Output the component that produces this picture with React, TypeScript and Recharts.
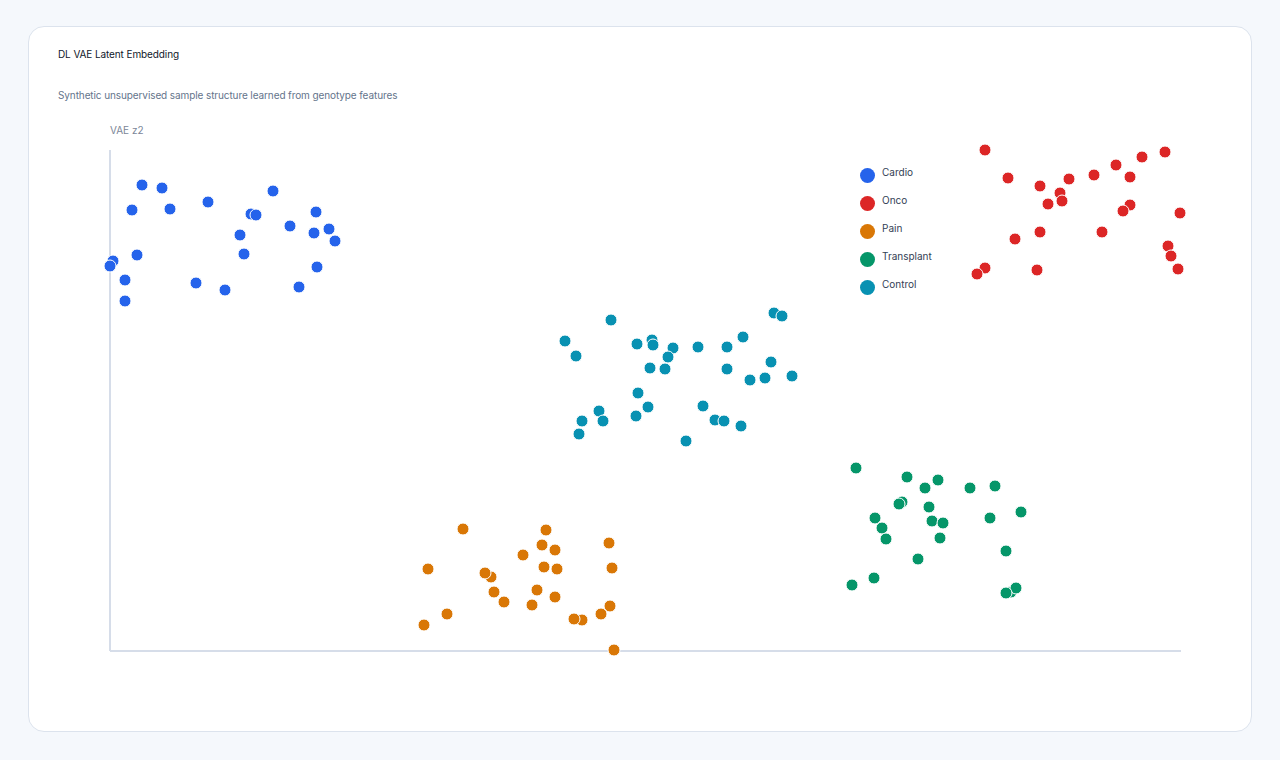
import { ScatterChart, Scatter, XAxis, YAxis } from "recharts";

// latent coordinates (z1, z2) per cohort
const cardioZ1 = [-5.03, -4.83, -5.13, -4.75, -4.37, -3.72, -3.94, -3.89, -3.29, -3.55, -3.31, -3.16, -3.1, -4.05, -4.01, -5.08, -5.32, -5.35, -5.2, -5.2, -4.49, -4.2, -3.46, -3.28];
const cardioZ2 = [2.15, 2.12, 1.9, 1.91, 1.98, 2.09, 1.86, 1.85, 1.88, 1.74, 1.67, 1.71, 1.59, 1.65, 1.46, 1.45, 1.39, 1.34, 1.2, 0.99, 1.17, 1.1, 1.13, 1.33];

const oncoZ1 = [3.4, 5.2, 4.97, 4.71, 4.49, 4.85, 3.63, 4.24, 3.95, 4.15, 4.17, 4.03, 4.85, 4.78, 5.35, 3.95, 4.57, 3.7, 5.23, 5.26, 3.4, 3.32, 3.92, 5.33];
const oncoZ2 = [2.5, 2.48, 2.43, 2.35, 2.25, 2.23, 2.22, 2.21, 2.14, 2.07, 1.99, 1.96, 1.95, 1.89, 1.87, 1.68, 1.68, 1.61, 1.54, 1.44, 1.32, 1.26, 1.3, 1.31];

const painZ1 = [-1.82, -0.99, -0.36, -1.03, -0.9, -1.22, -2.17, -1.54, -1.6, -1.01, -0.88, -0.33, -1.51, -1.41, -1.08, -1.13, -0.9, -1.98, -2.21, -0.63, -0.71, -0.44, -0.35, -0.31];
const painZ2 = [-1.29, -1.3, -1.43, -1.45, -1.5, -1.55, -1.69, -1.77, -1.73, -1.67, -1.69, -1.68, -1.92, -2.02, -1.9, -2.05, -1.97, -2.14, -2.25, -2.2, -2.19, -2.14, -2.06, -2.5];

const transplantZ1 = [2.11, 2.62, 2.93, 2.8, 3.25, 3.5, 2.57, 2.54, 2.84, 2.3, 2.87, 2.98, 3.45, 3.76, 2.37, 2.41, 2.95, 3.61, 2.73, 2.29, 2.07, 3.66, 3.71, 3.61];
const transplantZ2 = [-0.68, -0.77, -0.8, -0.88, -0.88, -0.86, -1.02, -1.04, -1.07, -1.18, -1.21, -1.23, -1.18, -1.12, -1.28, -1.39, -1.38, -1.51, -1.59, -1.78, -1.85, -1.92, -1.88, -1.93];

const controlZ1 = [-0.34, -0.8, -0.69, -0.08, 0.07, 0.08, 0.28, 0.23, 0.05, 0.2, 0.53, 0.82, 0.98, 1.29, 1.37, 0.82, 1.26, 1.05, 1.2, 1.47, -0.07, 0.03, -0.09, -0.46, -0.63, -0.42, -0.66, 0.58, 0.7, 0.79, 0.96, 0.41];
const controlZ2 = [0.8, 0.59, 0.44, 0.56, 0.6, 0.55, 0.52, 0.43, 0.32, 0.31, 0.53, 0.53, 0.63, 0.87, 0.84, 0.31, 0.38, 0.2, 0.22, 0.24, 0.07, -0.07, -0.16, -0.11, -0.21, -0.21, -0.34, -0.06, -0.2, -0.21, -0.26, -0.41];

const groups = [
  { name: "Cardio", color: "#2563eb", z1: cardioZ1, z2: cardioZ2 },
  { name: "Onco", color: "#dc2626", z1: oncoZ1, z2: oncoZ2 },
  { name: "Pain", color: "#d97706", z1: painZ1, z2: painZ2 },
  { name: "Transplant", color: "#059669", z1: transplantZ1, z2: transplantZ2 },
  { name: "Control", color: "#0891b2", z1: controlZ1, z2: controlZ2 },
];

const toPoints = (xs: number[], ys: number[]) => xs.map((x, i) => ({ x, y: ys[i] }));

const Dot = (props: any) => (
  <circle cx={props.cx} cy={props.cy} r={6} fill={props.fill} stroke="#ffffff" strokeWidth={1} />
);

const axisColor = "#d6dde9";

export default function App() {
  return (
    <div style={{ position: "relative", width: 1280, height: 760, background: "#f5f8fc", fontFamily: "Inter, sans-serif" }}>
      <style>{`body{margin:0}`}</style>
      <div
        style={{
          position: "absolute",
          left: 28,
          top: 26,
          width: 1222,
          height: 704,
          background: "#ffffff",
          border: "1px solid #dce3ed",
          borderRadius: 16,
        }}
      />
      <div style={{ position: "absolute", left: 58, top: 48, fontSize: 10, lineHeight: "12px", letterSpacing: "-0.1px", color: "#0f172a" }}>
        DL VAE Latent Embedding
      </div>
      <div style={{ position: "absolute", left: 58, top: 89, fontSize: 10, lineHeight: "12px", letterSpacing: "-0.1px", color: "#64748b" }}>
        Synthetic unsupervised sample structure learned from genotype features
      </div>
      <div style={{ position: "absolute", left: 110, top: 124, fontSize: 10, lineHeight: "12px", color: "#7b8698" }}>
        VAE z2
      </div>
      <div style={{ position: "absolute", left: 0, top: 0 }}>
        <ScatterChart width={1280} height={760} margin={{ top: 150, right: 99, bottom: 108, left: 109 }}>
          <XAxis
            type="number"
            dataKey="x"
            domain={[-5.35, 5.36]}
            height={1}
            tick={false}
            tickLine={false}
            axisLine={{ stroke: axisColor, strokeWidth: 2 }}
          />
          <YAxis
            type="number"
            dataKey="y"
            domain={[-2.51, 2.5]}
            width={1}
            tick={false}
            tickLine={false}
            axisLine={{ stroke: axisColor, strokeWidth: 2 }}
          />
          {groups.map((g) => (
            <Scatter
              key={g.name}
              name={g.name}
              data={toPoints(g.z1, g.z2)}
              fill={g.color}
              shape={Dot}
              isAnimationActive={false}
            />
          ))}
        </ScatterChart>
      </div>
      {groups.map((g, i) => (
        <div key={g.name} style={{ position: "absolute", left: 860, top: 168 + i * 28, height: 15 }}>
          <div style={{ position: "absolute", left: 0, top: 0, width: 15, height: 15, borderRadius: "50%", background: g.color }} />
          <div style={{ position: "absolute", left: 22, top: -2, fontSize: 10, lineHeight: "12px", color: "#334155", whiteSpace: "nowrap" }}>
            {g.name}
          </div>
        </div>
      ))}
    </div>
  );
}
